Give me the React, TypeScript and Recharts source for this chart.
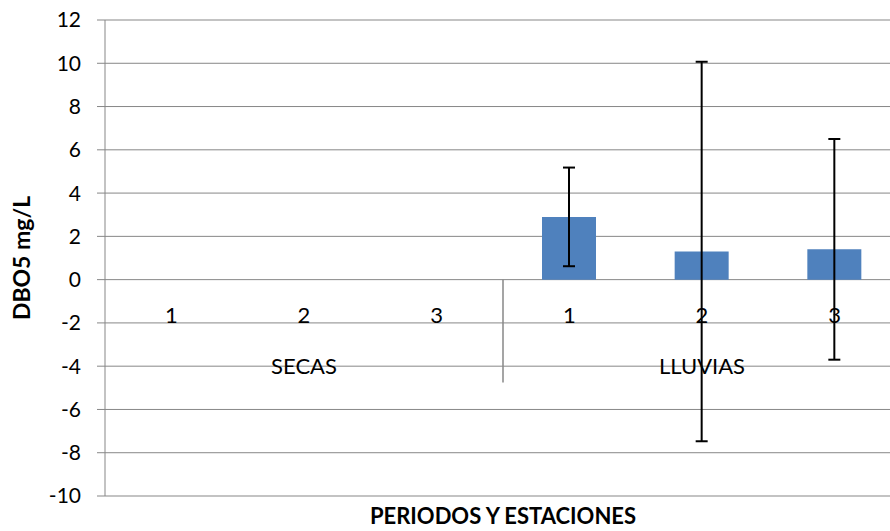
import { BarChart, Bar, XAxis, YAxis, CartesianGrid, ErrorBar, ReferenceLine, ReferenceDot } from 'recharts';

// categorías (periodo + estación)
const keys = ['S1', 'S2', 'S3', 'L1', 'L2', 'L3'];
const periods = ['1', '2', '3', '1', '2', '3'];
const stations = ['SECAS', 'LLUVIAS'];
const stationCenters = ['S2', 'L2'];
// DBO5 mg/L y desviación
const values = [0, 0, 0, 2.9, 1.3, 1.4];
const errors = [0, 0, 0, 2.28, 8.77, 5.1];
const yTicks = [-10, -8, -6, -4, -2, 0, 2, 4, 6, 8, 10, 12];

const data = keys.map((k, i) => ({ key: k, value: values[i], err: errors[i] }));

const FONT = 'Lato, "Liberation Sans", sans-serif';
const GRID = '#878787';

export default function App() {
  return (
    <div style={{ position: 'absolute', left: 0, top: 0, width: 890, height: 531, overflow: 'hidden', background: '#fff' }}>
      <BarChart width={910} height={531} data={data} margin={{ top: 20, right: 9, left: 0, bottom: 0 }} barSize={54}>
        <CartesianGrid vertical={false} stroke={GRID} strokeWidth={1} />
        <XAxis
          dataKey="key"
          height={35}
          tick={false}
          tickLine={false}
          axisLine={false}
          label={{
            value: 'PERIODOS Y ESTACIONES',
            position: 'insideBottom',
            offset: 7,
            style: { fontWeight: 700, fontSize: 22, fontFamily: FONT, fill: '#000' },
          }}
        />
        <YAxis
          domain={[-10, 12]}
          ticks={yTicks}
          width={105}
          tickSize={8}
          tickMargin={16}
          stroke={GRID}
          tick={{ fill: '#000', fontSize: 21, fontFamily: FONT }}
          label={{
            value: 'DBO5 mg/L',
            angle: -90,
            position: 'insideLeft',
            offset: 22,
            style: { textAnchor: 'middle', fontWeight: 700, fontSize: 23, fontFamily: FONT, fill: '#000' },
          }}
        />
        <Bar dataKey="value" fill="#4F81BD" isAnimationActive={false}>
          <ErrorBar dataKey="err" width={6} stroke="#000" strokeWidth={2} direction="y" />
        </Bar>
        <ReferenceLine
          position="start"
          segment={[{ x: 'L1', y: 0 }, { x: 'L1', y: -4.75 }]}
          stroke={GRID}
          strokeWidth={1.5}
        />
        {keys.map((k, i) => (
          <ReferenceDot
            key={k}
            x={k}
            y={0}
            r={1}
            fill="none"
            stroke="none"
            label={(p: any) => (
              <text x={p.viewBox.x + 1} y={p.viewBox.y + 36} textAnchor="middle" dominantBaseline="central" fontSize={22} fontFamily={FONT} fill="#000">
                {periods[i]}
              </text>
            )}
          />
        ))}
        {stations.map((s, i) => (
          <ReferenceDot
            key={s}
            x={stationCenters[i]}
            y={0}
            r={1}
            fill="none"
            stroke="none"
            label={(p: any) => (
              <text x={p.viewBox.x + 1} y={p.viewBox.y + 87} textAnchor="middle" dominantBaseline="central" fontSize={22} fontFamily={FONT} fill="#000">
                {s}
              </text>
            )}
          />
        ))}
      </BarChart>
    </div>
  );
}
